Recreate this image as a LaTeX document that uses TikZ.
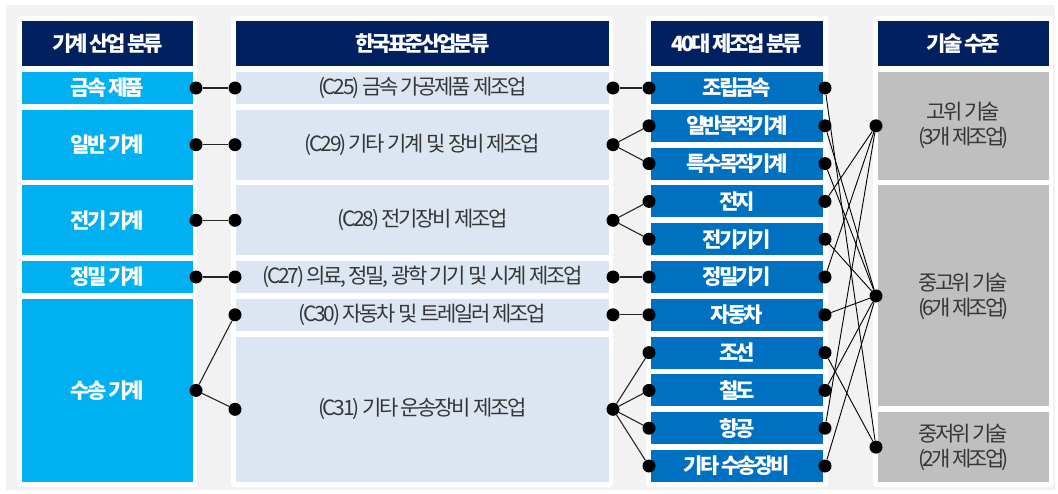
\documentclass[tikz,border=0pt]{standalone}
\usepackage{fontspec}
\setmainfont{Noto Sans CJK KR}
\newfontfamily\krt{Noto Sans CJK KR}[LetterSpace=-14]
\newfontfamily\krm{Noto Sans CJK KR}[LetterSpace=-11]
\definecolor{bgc}{HTML}{F2F2F2}
\definecolor{navy}{HTML}{002060}
\definecolor{cyanb}{HTML}{00B0F0}
\definecolor{paleb}{HTML}{DCE6F2}
\definecolor{blueb}{HTML}{0070C0}
\definecolor{grayb}{HTML}{BFBFBF}
\definecolor{txt}{HTML}{363636}
\begin{document}
\begin{tikzpicture}[x=1pt,y=-1pt,
  base/.style={inner sep=0pt, outer sep=0pt, align=center, font=\krt\fontsize{21}{24}\selectfont},
  hdr/.style={base, fill=navy, text=white, font=\krt\fontsize{21}{24}\selectfont\bfseries, minimum height=45pt},
  k1/.style={base, fill=cyanb, text=white, font=\krt\fontsize{21}{24}\selectfont\bfseries, minimum width=171pt},
  k2/.style={base, fill=paleb, text=txt, font=\krm\fontsize{21}{24}\selectfont, minimum width=373pt},
  k3/.style={base, fill=blueb, text=white, font=\krt\fontsize{21}{24}\selectfont\bfseries, minimum width=172pt, minimum height=32pt},
  k4/.style={base, fill=grayb, text=txt, font=\krt\fontsize{21}{25}\selectfont, minimum width=171pt},
  panel/.style={fill=white, rounded corners=3pt},
  dot/.style={circle, fill=black, inner sep=0pt, minimum size=13pt},
  link/.style={draw=black!85, line width=1.1pt},
  thin/.style={draw=black, line width=0.9pt}]
\useasboundingbox (0,0) rectangle (1058,493);
\fill[bgc] (6,5) rectangle (1055,490);
% panels
\fill[panel] (17,16) rectangle (197,487);
\fill[panel] (231,16) rectangle (613,487);
\fill[panel] (646,16) rectangle (828,487);
\fill[panel] (873,16) rectangle (1053,487);
% headers
\node[hdr, minimum width=171pt] (h1) at (107.5,43.5) {기계 산업 분류};
\node[hdr, minimum width=373pt] (h2) at (422.5,43.5) {한국표준산업분류};
\node[hdr, minimum width=172pt] (h3) at (737,43.5) {40대 제조업 분류};
\node[hdr, minimum width=171pt] (h4) at (963.5,43.5) {기술 수준};
% column 1
\node[k1, minimum height=32pt] (a1) at (107.5,88) {금속 제품};
\node[k1, minimum height=69.8pt] (a2) at (107.5,144.7) {일반 기계};
\node[k1, minimum height=69.8pt] (a3) at (107.5,220.3) {전기 기계};
\node[k1, minimum height=32pt] (a4) at (107.5,277) {정밀 기계};
\node[k1, minimum height=183.2pt] (a5) at (107.5,390.4) {수송 기계};
% column 2
\node[k2, minimum height=32pt] (b1) at (422.5,88) {(C25) 금속 가공제품 제조업};
\node[k2, minimum height=69.8pt] (b2) at (422.5,144.7) {(C29) 기타 기계 및 장비 제조업};
\node[k2, minimum height=69.8pt] (b3) at (422.5,220.3) {(C28) 전기장비 제조업};
\node[k2, minimum height=32pt] (b4) at (422.5,277) {(C27) 의료, 정밀, 광학 기기 및 시계 제조업};
\node[k2, minimum height=32pt] (b5) at (422.5,314.8) {(C30) 자동차 및 트레일러 제조업};
\node[k2, minimum height=145.4pt] (b6) at (422.5,409.3) {(C31) 기타 운송장비 제조업};
% column 3
\node[k3] (c1) at (737,88) {조립금속};
\node[k3] (c2) at (737,125.8) {일반목적기계};
\node[k3] (c3) at (737,163.6) {특수목적기계};
\node[k3] (c4) at (737,201.4) {전지};
\node[k3] (c5) at (737,239.2) {전기기기};
\node[k3] (c6) at (737,277) {정밀기기};
\node[k3] (c7) at (737,314.8) {자동차};
\node[k3] (c8) at (737,352.6) {조선};
\node[k3] (c9) at (737,390.4) {철도};
\node[k3] (c10) at (737,428.2) {항공};
\node[k3] (c11) at (737,466) {기타 수송장비};
% column 4
\node[k4, minimum height=107.6pt] (t1) at (963.5,125.8) {고위 기술\\(3개 제조업)};
\node[k4, minimum height=221pt] (t2) at (963.5,295.9) {중고위 기술\\(6개 제조업)};
\node[k4, minimum height=69.8pt] (t3) at (963.5,447.1) {중저위 기술\\(2개 제조업)};
% dots col1 right
\foreach \i in {1,...,5} {\node[dot] (ar\i) at ([xshift=3pt]a\i.east) {};}
% dots col2 left / right
\foreach \i in {1,...,6} {
  \node[dot] (bl\i) at ([xshift=-1pt]b\i.west) {};
  \node[dot] (br\i) at ([xshift=4pt]b\i.east) {};}
% dots col3 left / right
\foreach \i in {1,...,11} {
  \node[dot] (cl\i) at ([xshift=-2pt]c\i.west) {};
  \node[dot] (cr\i) at ([xshift=2pt]c\i.east) {};}
% dots col4
\foreach \i in {1,2,3} {\node[dot] (tl\i) at ([xshift=-2pt]t\i.west) {};}
% links col1-col2
\draw[link] (ar1) -- (bl1);
\draw[link] (ar2) -- (bl2);
\draw[link] (ar3) -- (bl3);
\draw[link] (ar4) -- (bl4);
\draw[link] (ar5) -- (bl5);
\draw[link] (ar5) -- (bl6);
% links col2-col3
\draw[link] (br1) -- (cl1);
\draw[link] (br2) -- (cl2);
\draw[link] (br2) -- (cl3);
\draw[link] (br3) -- (cl4);
\draw[link] (br3) -- (cl5);
\draw[link] (br4) -- (cl6);
\draw[link] (br5) -- (cl7);
\draw[link] (br6) -- (cl8);
\draw[link] (br6) -- (cl9);
\draw[link] (br6) -- (cl10);
\draw[link] (br6) -- (cl11);
% links col3-col4
\draw[thin] (cr1) -- (tl3);
\draw[thin] (cr2) -- (tl2);
\draw[thin] (cr3) -- (tl2);
\draw[thin] (cr4) -- (tl1);
\draw[thin] (cr5) -- (tl2);
\draw[thin] (cr6) -- (tl1);
\draw[thin] (cr7) -- (tl2);
\draw[thin] (cr8) -- (tl3);
\draw[thin] (cr9) -- (tl2);
\draw[thin] (cr10) -- (tl1);
\draw[thin] (cr11) -- (tl2);
\end{tikzpicture}
\end{document}
